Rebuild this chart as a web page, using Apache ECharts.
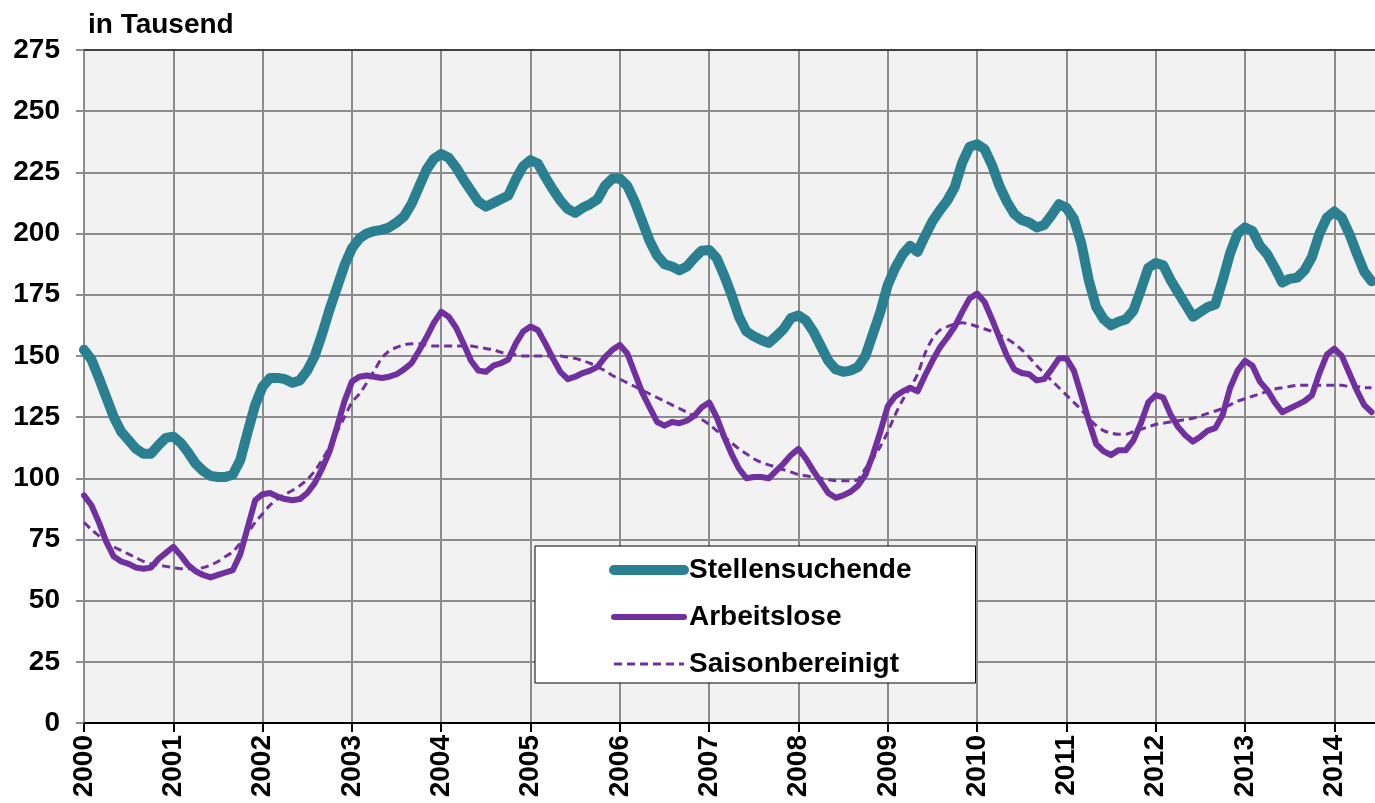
<!DOCTYPE html>
<html>
<head>
<meta charset="utf-8">
<script src="https://cdn.jsdelivr.net/npm/echarts@6/dist/echarts.min.js"></script>
<style>
  html, body { margin: 0; padding: 0; background: #fff; overflow: hidden; }
  #chart { width: 1379px; height: 803px; }
</style>
</head>
<body>
<div id="chart"></div>
<script>
// monthly values, Jan 2000 - Jun 2014, in thousands
const years = [2000, 2001, 2002, 2003, 2004, 2005, 2006, 2007, 2008, 2009, 2010, 2011, 2012, 2013, 2014];

const stellensuchende = [
  152.5, 148.5, 141, 133, 125, 119, 115.5, 112, 110, 110, 113.5, 116.5,
  117, 114.5, 110.5, 106, 103, 101, 100.5, 100.5, 101.5, 107.5, 119, 130,
  137.5, 141, 141, 140.5, 139, 140, 144, 150, 159, 169, 178, 187,
  194, 198, 200, 201, 201.5, 202.5, 204.5, 207, 212, 219, 226, 230.5,
  232.5, 231, 227, 222, 217.5, 213, 211, 212.5, 214, 215.5, 222, 227.5,
  230, 228.5, 223, 218, 213.5, 210, 208.5, 210.5, 212, 214, 219.5, 222.5,
  222.5, 219.5, 213, 205, 197, 191, 187.5, 186.5, 185, 186.5, 190, 193,
  193.3, 190, 183, 175, 166, 160, 158, 156.5, 155.3, 158, 161, 165.5,
  166.5, 164.5, 160, 154, 148, 144.5, 143.5, 144, 145.5, 150, 159, 168,
  179, 186, 191.5, 195, 192.5, 199, 205, 209.5, 213.5, 219, 229, 235.5,
  236.5, 234.5, 228, 219.5, 213, 208, 205.5, 204.5, 202.5, 203.5, 207.5, 212,
  210.5, 206, 196, 181, 170, 165, 162.5, 164, 165, 168.5, 177, 186,
  188, 187, 181, 176, 171, 166, 168, 170, 171, 181, 192, 200,
  202.5, 201, 195, 191.5, 186, 180, 181.5, 182, 185, 190.5, 200, 206.5,
  209, 206.5, 200, 192, 184.5, 180.5
];

const arbeitslose = [
  93, 89, 82, 74, 68, 66, 65, 63.5, 63, 63.5, 67, 69.5,
  72, 68.5, 64.5, 62, 60.5, 59.5, 60.5, 61.5, 62.5, 69, 80, 91,
  93.5, 94, 92.5, 91.5, 91, 91.5, 94, 98, 104, 111, 121, 131.5,
  139.5, 141.5, 142, 141.5, 141, 141.5, 142.5, 144.5, 147, 152, 157.5, 163.5,
  168, 166, 161.5, 155, 148, 144, 143.5, 146, 147, 148.5, 155, 160,
  162, 160.5, 155, 149, 143.5, 140.5, 141.5, 143, 144, 145.5, 149.5, 152.5,
  154.5, 151, 143, 135, 129, 123, 121.5, 123, 122.5, 123.5, 125.5, 129,
  131, 125, 117, 110, 104, 100, 100.5, 100.5, 100, 103, 106, 109.5,
  112, 108, 103, 98.5, 94, 92, 93, 94.5, 97, 101.5, 109.5, 119,
  129.5, 133.5, 135.5, 137, 135.5, 142, 148, 153.5, 157.5, 162, 168, 173.5,
  175.5, 172, 165, 157.5, 150, 144.5, 143, 142.5, 140, 140.5, 144.5, 149,
  149, 144, 134, 123.5, 114, 111, 109.5, 111.5, 111.5, 115.5, 122.5, 131,
  134, 133, 126, 121, 117.5, 115, 117, 119.5, 120.5, 126, 137, 144,
  148, 146, 139.5, 136, 131, 127, 128.5, 130, 131.5, 134, 143, 150.5,
  153, 150, 143, 136, 130, 127
];

const saisonbereinigt = [
  82, 79, 76.5, 74, 72, 70.5, 69, 67.5, 66, 65, 64.5, 64,
  63.5, 63, 63, 63, 63.5, 64.5, 66, 68, 70, 73.5, 77.5, 82,
  85.5, 89, 91.5, 93.5, 95, 97, 99.5, 103, 107.5, 113, 119, 125,
  131, 134.5, 139, 144, 149, 152, 153.5, 154.5, 155, 155, 154.5, 154,
  154, 154, 154, 154, 154, 153.5, 153, 152.5, 151.5, 151, 150.5, 150,
  150, 150, 150, 150, 150, 149.5, 149, 148, 147, 145.5, 144, 142,
  140.5, 139, 137.5, 136, 134.5, 133, 131.5, 130, 128.5, 127, 125.5, 124,
  122, 119.5, 117, 114.5, 112, 110, 108, 106.5, 105.5, 104.5, 103.5, 102.5,
  101.5, 101, 100.5, 100, 99.5, 99, 99, 99, 99.5, 104, 108, 113,
  119, 126, 132, 137, 142.5, 151, 157, 160.5, 162, 163, 163.5, 163,
  162, 161, 160, 158.5, 157, 155, 152.5, 149.5, 146, 143, 140, 137,
  134, 131, 128, 124.5, 121.5, 119.5, 118.5, 118, 118, 119, 120, 121,
  122, 122.5, 123, 123.5, 124, 124.5, 125.5, 126.5, 127.5, 128.5, 130, 131.5,
  132.5, 133.5, 134.5, 135.5, 136.5, 137, 137.5, 138, 138, 138, 138, 138,
  138, 138, 137.5, 137.5, 137, 137
];

// one category per month, labelled by year; the axis runs one month past the last value
const months = [];
years.forEach(y => {
  for (let m = 1; m <= 12; m++) months.push(y + "-" + (m < 10 ? "0" + m : m));
});
months.length = stellensuchende.length + 1;

const font = "'Liberation Sans', Arial, sans-serif";
const teal = "#2a7f90";
const purple = "#7030a0";
const everyYear = (idx) => idx % 12 === 0;

const chart = echarts.init(document.getElementById("chart"));

chart.setOption({
  animation: false,
  title: {
    text: "in Tausend",
    left: 83,
    top: 6,
    textStyle: { fontFamily: font, fontSize: 28, fontWeight: "bold", color: "#000" },
  },
  legend: {
    orient: "vertical",
    left: 535,
    top: 546,
    padding: [10, 64, 5, 74],
    itemWidth: 70,
    itemHeight: 28,
    itemGap: 19,
    backgroundColor: "#fff",
    borderColor: "#000",
    borderWidth: 1,
    borderRadius: 0,
    itemStyle: { color: "transparent", borderWidth: 0, opacity: 0 },
    lineStyle: { width: "inherit" },
    textStyle: { fontFamily: font, fontSize: 28, fontWeight: "bold", color: "#000" },
    data: ["Stellensuchende", "Arbeitslose", "Saisonbereinigt"],
  },
  grid: {
    left: 84,
    right: 0,
    top: 50,
    bottom: 80,
    show: true,
    backgroundColor: "#f2f2f2",
    borderWidth: 0,
  },
  xAxis: [
    {
      type: "category",
      boundaryGap: false,
      data: months,
      axisLine: { lineStyle: { color: "#000", width: 2 } },
      axisTick: { interval: everyYear, length: 9, lineStyle: { color: "#000", width: 2 } },
      axisLabel: {
        interval: everyYear,
        rotate: 90,
        margin: 12,
        formatter: (v) => v.slice(0, 4),
        fontFamily: font,
        fontSize: 28,
        fontWeight: "bold",
        color: "#000",
      },
      splitLine: { show: true, interval: everyYear, lineStyle: { color: "#8c8c8c", width: 2 } },
    },
    {
      type: "category",
      position: "top",
      boundaryGap: false,
      data: months,
      axisLine: { lineStyle: { color: "#404040", width: 2 } },
      axisTick: { show: false },
      axisLabel: { show: false },
    },
  ],
  yAxis: {
    type: "value",
    min: 0,
    max: 275,
    interval: 25,
    axisLine: { show: true, lineStyle: { color: "#8c8c8c", width: 2 } },
    axisTick: { show: true, length: 8, lineStyle: { color: "#8c8c8c", width: 2 } },
    axisLabel: {
      margin: 24,
      fontFamily: font,
      fontSize: 28,
      fontWeight: "bold",
      color: "#000",
    },
    splitLine: { lineStyle: { color: "#8c8c8c", width: 2 } },
  },
  series: [
    {
      name: "Stellensuchende",
      type: "line",
      data: stellensuchende,
      symbol: "none",
      lineStyle: { color: teal, width: 10, cap: "round", join: "round" },
      itemStyle: { color: teal },
    },
    {
      name: "Arbeitslose",
      type: "line",
      data: arbeitslose,
      symbol: "none",
      lineStyle: { color: purple, width: 6, cap: "round", join: "round" },
      itemStyle: { color: purple },
    },
    {
      name: "Saisonbereinigt",
      type: "line",
      data: saisonbereinigt,
      symbol: "none",
      smooth: 0.3,
      lineStyle: { color: purple, width: 3, type: [8, 5] },
      itemStyle: { color: purple },
    },
  ],
});
</script>
</body>
</html>
